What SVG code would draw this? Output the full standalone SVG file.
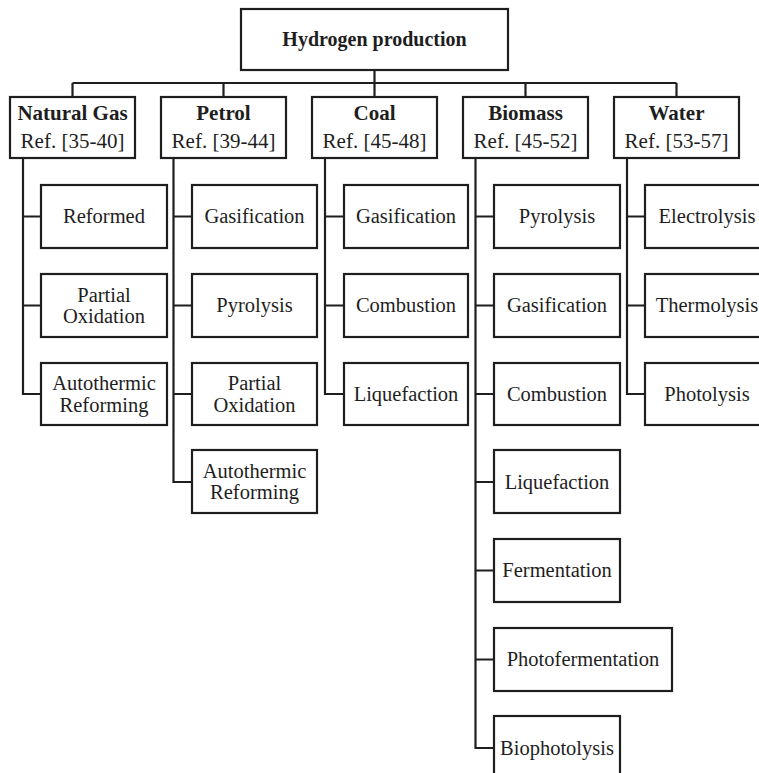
<svg xmlns="http://www.w3.org/2000/svg" width="759" height="773" viewBox="0 0 759 773">
<style>
rect{fill:#fff;stroke:#1e1e1e;stroke-width:2.2}
text{font-family:"Liberation Serif","Times New Roman",serif;fill:#1e1e1e;text-anchor:middle}
.t{font-size:20px;font-weight:bold}
.h{font-size:21px;font-weight:bold}
.r{font-size:21px}
.c{font-size:20.5px}
#connectors path{fill:none;stroke:#1e1e1e;stroke-width:2.2}
</style>
<rect x="0" y="0" width="759" height="773" style="fill:#fff;stroke:none"/>
<g id="connectors">
<path d="M374.5 70V83M72.5 83H676.5M72.5 83V97M223.5 83V97M374.5 83V97M525.5 83V97M676.5 83V97"/>
<path d="M23 158V394H41M23 216.5H41M23 305.5H41"/>
<path d="M173.5 158V482H192M173.5 216.5H192M173.5 305.5H192M173.5 394H192"/>
<path d="M325 158V394H344M325 216.5H344M325 305.5H344"/>
<path d="M475.5 158V748H494M475.5 216.5H494M475.5 305.5H494M475.5 394H494M475.5 482H494M475.5 570.5H494M475.5 659.5H494"/>
<path d="M627 158V394H645M627 216.5H645M627 305.5H645"/>
</g>
<g id="root"><rect x="241" y="9" width="267" height="61"/><text class="t" x="374.5" y="46">Hydrogen production</text></g>
<g id="natural-gas"><rect x="10" y="97" width="125" height="61"/><text class="h" x="72.5" y="120">Natural Gas</text><text class="r" x="72.5" y="148">Ref. [35-40]</text></g>
<g id="petrol"><rect x="161" y="97" width="125" height="61"/><text class="h" x="223.5" y="120">Petrol</text><text class="r" x="223.5" y="148">Ref. [39-44]</text></g>
<g id="coal"><rect x="312" y="97" width="125" height="61"/><text class="h" x="374.5" y="120">Coal</text><text class="r" x="374.5" y="148">Ref. [45-48]</text></g>
<g id="biomass"><rect x="463" y="97" width="125" height="61"/><text class="h" x="525.5" y="120">Biomass</text><text class="r" x="525.5" y="148">Ref. [45-52]</text></g>
<g id="water"><rect x="614" y="97" width="125" height="61"/><text class="h" x="676.5" y="120">Water</text><text class="r" x="676.5" y="148">Ref. [53-57]</text></g>

<g id="ng-reformed"><rect x="41" y="185" width="126" height="63"/><text class="c" x="104" y="223">Reformed</text></g>
<g id="ng-partial"><rect x="41" y="274" width="126" height="63"/><text class="c" x="104" y="301.5">Partial</text><text class="c" x="104" y="323">Oxidation</text></g>
<g id="ng-auto"><rect x="41" y="363" width="126" height="62"/><text class="c" x="104" y="390">Autothermic</text><text class="c" x="104" y="411.5">Reforming</text></g>

<g id="p-gas"><rect x="192" y="185" width="125" height="63"/><text class="c" x="254.5" y="223">Gasification</text></g>
<g id="p-pyro"><rect x="192" y="274" width="125" height="63"/><text class="c" x="254.5" y="312">Pyrolysis</text></g>
<g id="p-partial"><rect x="192" y="363" width="125" height="62"/><text class="c" x="254.5" y="390">Partial</text><text class="c" x="254.5" y="411.5">Oxidation</text></g>
<g id="p-auto"><rect x="192" y="450" width="125" height="63"/><text class="c" x="254.5" y="477.5">Autothermic</text><text class="c" x="254.5" y="499">Reforming</text></g>

<g id="c-gas"><rect x="344" y="185" width="124" height="63"/><text class="c" x="406" y="223">Gasification</text></g>
<g id="c-comb"><rect x="344" y="274" width="124" height="63"/><text class="c" x="406" y="312">Combustion</text></g>
<g id="c-liq"><rect x="344" y="363" width="124" height="62"/><text class="c" x="406" y="400.5">Liquefaction</text></g>

<g id="b-pyro"><rect x="494" y="185" width="126" height="63"/><text class="c" x="557" y="223">Pyrolysis</text></g>
<g id="b-gas"><rect x="494" y="274" width="126" height="63"/><text class="c" x="557" y="312">Gasification</text></g>
<g id="b-comb"><rect x="494" y="363" width="126" height="62"/><text class="c" x="557" y="400.5">Combustion</text></g>
<g id="b-liq"><rect x="494" y="450" width="126" height="63"/><text class="c" x="557" y="488.5">Liquefaction</text></g>
<g id="b-ferm"><rect x="494" y="539" width="126" height="63"/><text class="c" x="557" y="577">Fermentation</text></g>
<g id="b-photoferm"><rect x="494" y="628" width="178" height="63"/><text class="c" x="583" y="666">Photofermentation</text></g>
<g id="b-biophoto"><rect x="494" y="716" width="126" height="63"/><text class="c" x="557" y="754.5">Biophotolysis</text></g>

<g id="w-elec"><rect x="645" y="185" width="125" height="63"/><text class="c" x="707" y="223">Electrolysis</text></g>
<g id="w-thermo"><rect x="645" y="274" width="125" height="63"/><text class="c" x="707" y="312">Thermolysis</text></g>
<g id="w-photo"><rect x="645" y="363" width="125" height="62"/><text class="c" x="707" y="400.5">Photolysis</text></g>
</svg>
